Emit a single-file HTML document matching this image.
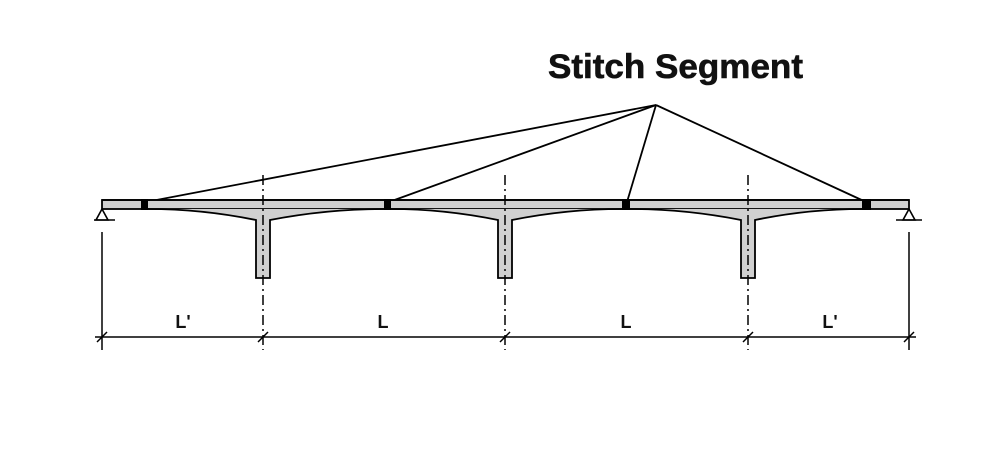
<!DOCTYPE html>
<html><head><style>html,body{margin:0;padding:0;background:#fff;}svg{display:block}</style></head>
<body>
<svg width="1000" height="450" viewBox="0 0 1000 450" xmlns="http://www.w3.org/2000/svg">
<rect width="1000" height="450" fill="#fff"/>
<text x="548" y="78" font-family="Liberation Sans, sans-serif" font-weight="bold" font-size="34" textLength="255" lengthAdjust="spacingAndGlyphs" fill="#111" stroke="#111" stroke-width="0.6">Stitch Segment</text>
<g stroke="#000" stroke-width="1.8" fill="none">
<line x1="656" y1="105" x2="146" y2="202"/>
<line x1="656" y1="105" x2="389" y2="202"/>
<line x1="656" y1="105" x2="627" y2="202"/>
<line x1="656" y1="105" x2="866" y2="202"/>
</g>
<rect x="102" y="200" width="807" height="9" fill="#d0d0d0" stroke="#000" stroke-width="1.8"/>
<g fill="#d0d0d0" stroke="#000" stroke-width="1.8">
<path d="M148 209 Q202 209 256 220 L256 278 L270 278 L270 220 Q327 209 384 209"/>
<path d="M391 209 Q444 209 498 220 L498 278 L512 278 L512 220 Q567 209 622 209"/>
<path d="M630 209 Q685 209 741 220 L741 278 L755 278 L755 220 Q808 209 862 209"/>
</g>
<line x1="102" y1="200" x2="909" y2="200" stroke="#000" stroke-width="1.8"/>
<g fill="#000">
<rect x="141" y="199" width="7" height="11"/>
<rect x="384" y="199" width="7" height="11"/>
<rect x="622" y="199" width="8" height="11"/>
<rect x="862" y="199" width="9" height="11"/>
</g>
<g stroke="#000" stroke-width="1.6" fill="#fff">
<path d="M102 209 L96 220 L108 220 Z"/>
<line x1="94" y1="220" x2="115" y2="220"/>
<path d="M909 209 L903 220 L915 220 Z"/>
<line x1="896" y1="220" x2="922" y2="220"/>
</g>
<g stroke="#000" stroke-width="1.5" stroke-dasharray="10,4,2,4">
<line x1="263" y1="175" x2="263" y2="350"/>
<line x1="505" y1="175" x2="505" y2="350"/>
<line x1="748" y1="175" x2="748" y2="350"/>
</g>
<g stroke="#000" stroke-width="1.5">
<line x1="102" y1="232" x2="102" y2="350"/>
<line x1="909" y1="232" x2="909" y2="350"/>
<line x1="95" y1="337" x2="916" y2="337"/>
<line x1="97" y1="342" x2="107" y2="332"/>
<line x1="258" y1="342" x2="268" y2="332"/>
<line x1="500" y1="342" x2="510" y2="332"/>
<line x1="743" y1="342" x2="753" y2="332"/>
<line x1="904" y1="342" x2="914" y2="332"/>
</g>
<g font-family="Liberation Sans, sans-serif" font-weight="bold" font-size="18" fill="#111" text-anchor="middle">
<text x="183" y="328">L'</text>
<text x="383" y="328">L</text>
<text x="626" y="328">L</text>
<text x="830" y="328">L'</text>
</g>
</svg>
</body></html>
